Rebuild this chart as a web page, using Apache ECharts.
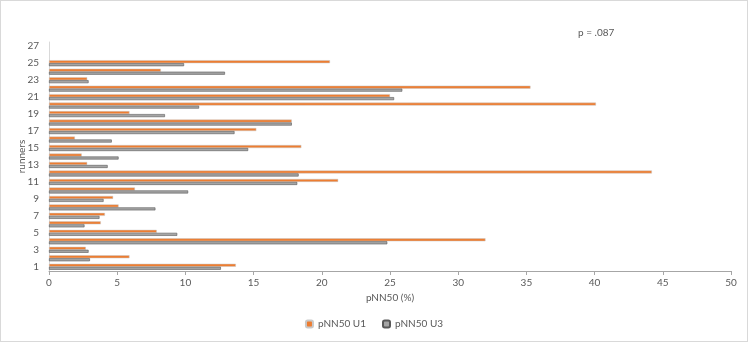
<!DOCTYPE html>
<html>
<head>
<meta charset="utf-8">
<script src="https://cdn.jsdelivr.net/npm/echarts@6/dist/echarts.min.js"></script>
<style>
html,body{margin:0;padding:0;background:#fff;}
#chart{width:746px;height:340px;border:1px solid #d9d9d9;}
</style>
</head>
<body>
<div id="chart"></div>
<script>
const categories = ['1','2','3','4','5','6','7','8','9','10','11','12','13','14','15','16','17','18','19','20','21','22','23','24','25','26','27'];
const u1 = [13.7, 5.9, 2.7, 32.0, 7.9, 3.8, 4.1, 5.1, 4.7, 6.3, 21.2, 44.2, 2.8, 2.4, 18.5, 1.9, 15.2, 17.8, 5.9, 40.1, 25.0, 35.3, 2.8, 8.2, 20.6, null, null];
const u3 = [12.6, 3.0, 2.9, 24.8, 9.4, 2.6, 3.7, 7.8, 4.0, 10.2, 18.2, 18.3, 4.3, 5.1, 14.6, 4.6, 13.6, 17.8, 8.5, 11.0, 25.3, 25.9, 2.9, 12.9, 9.9, null, null];
const xTicks = {min: 0, max: 50, interval: 5};
const annotation = 'p = .087';

const chart = echarts.init(document.getElementById('chart'));
const font = 'Lato, "Liberation Sans", sans-serif';
chart.setOption({
  animation: false,
  textStyle: {fontFamily: font},
  grid: {left: 48, right: 16, top: 41, bottom: 70, outerBoundsMode: 'none'},
  title: {text: annotation, left: 572, top: 22, textStyle: {fontSize: 10, fontWeight: 'normal', color: '#595959', fontFamily: font}},
  legend: {
    bottom: 7, left: 'center', itemWidth: 7, itemHeight: 7, itemGap: 16,
    textStyle: {fontSize: 10, color: '#595959', fontFamily: font},
    data: ['pNN50 U1', 'pNN50 U3']
  },
  xAxis: {
    type: 'value', min: xTicks.min, max: xTicks.max, interval: xTicks.interval,
    name: 'pNN50 (%)', nameLocation: 'middle', nameGap: 22, nameMoveOverlap: false,
    nameTextStyle: {fontSize: 10, color: '#595959', fontFamily: font},
    axisLine: {show: true, lineStyle: {color: '#a6a6a6', width: 1}},
    axisTick: {show: true, length: 4, lineStyle: {color: '#a6a6a6'}},
    axisLabel: {fontSize: 10, color: '#595959', margin: 7, fontFamily: font},
    splitLine: {show: false}
  },
  yAxis: {
    type: 'category', data: categories,
    name: 'runners', nameLocation: 'middle', nameGap: 27, nameRotate: 90, nameMoveOverlap: false,
    nameTextStyle: {fontSize: 10, color: '#595959', fontFamily: font, verticalAlign: 'middle'},
    axisLine: {show: true, lineStyle: {color: '#d9d9d9'}},
    axisTick: {show: false},
    axisLabel: {interval: 1, fontSize: 10, color: '#595959', margin: 10, fontFamily: font}
  },
  series: [
    {name: 'pNN50 U1', type: 'bar', data: u1, barWidth: 3, barGap: '0%',
     itemStyle: {color: '#ED7D31', borderColor: '#c9c9c9', borderWidth: 0.5}},
    {name: 'pNN50 U3', type: 'bar', data: u3, barWidth: 3, barGap: '0%',
     itemStyle: {color: '#A5A5A5', borderColor: '#595959', borderWidth: 0.6}}
  ]
});
</script>
</body>
</html>
